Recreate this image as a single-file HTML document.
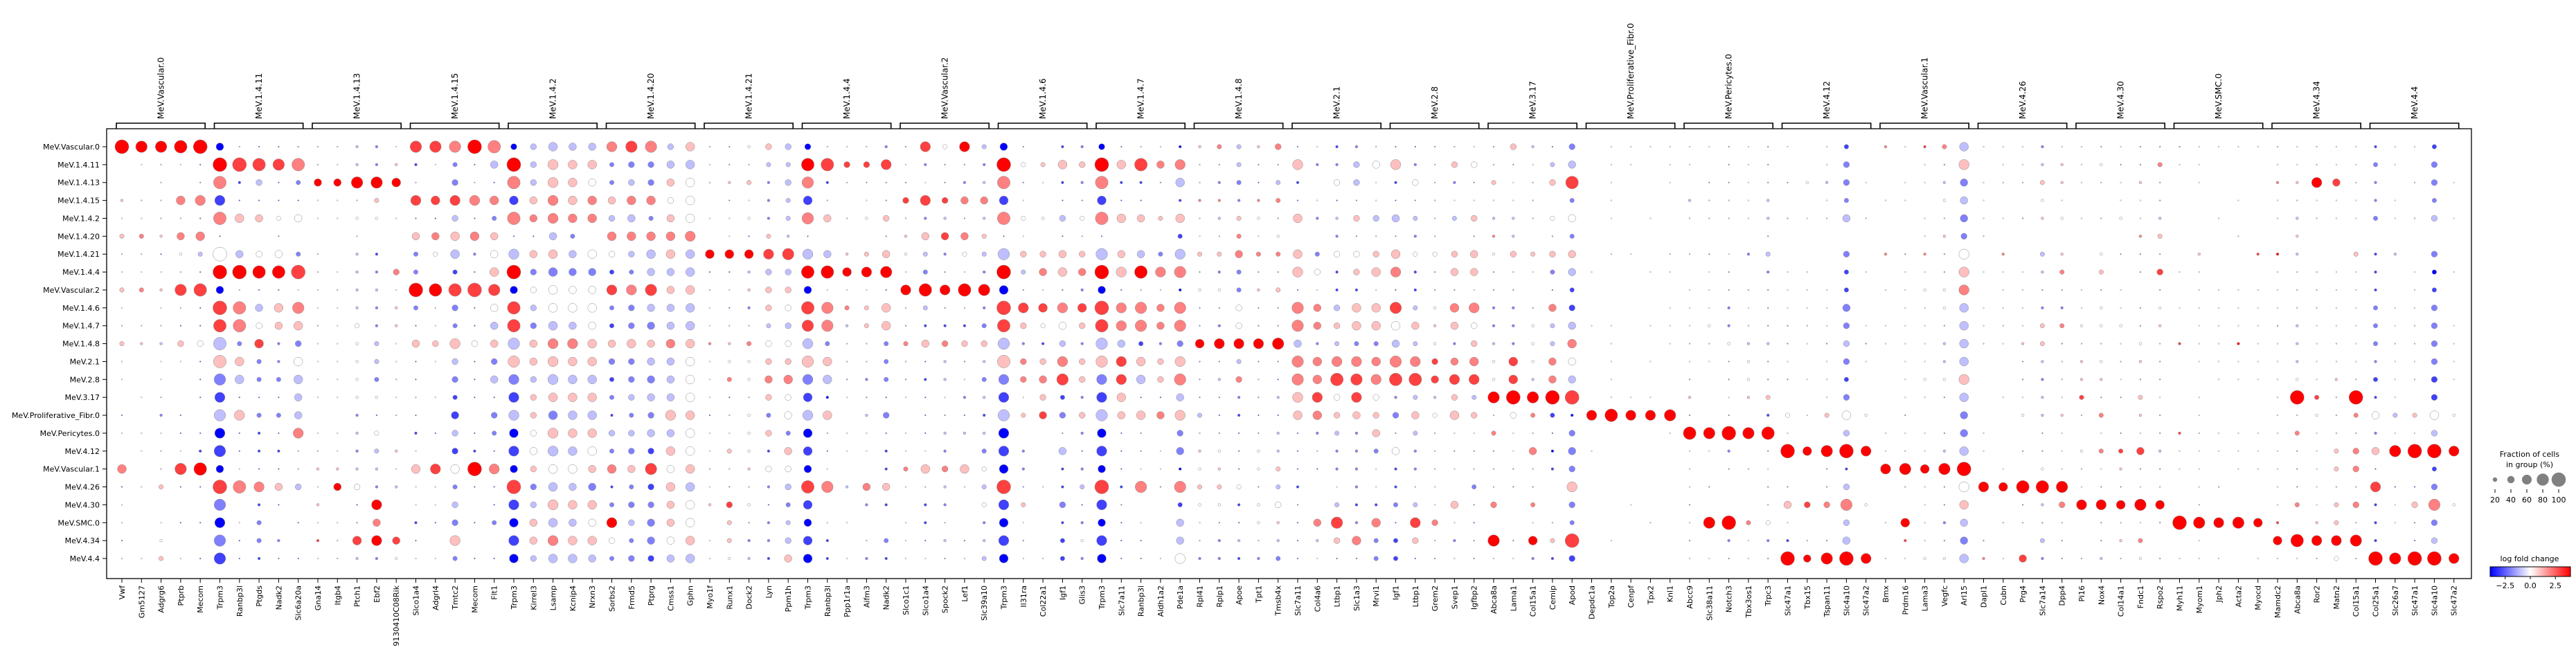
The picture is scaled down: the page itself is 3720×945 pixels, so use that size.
<!DOCTYPE html>
<html><head><meta charset="utf-8"><title>Dotplot</title>
<style>
html,body{margin:0;padding:0;background:#fff;}
svg{display:block;font-family:"DejaVu Sans","Liberation Sans",sans-serif;}
</style></head>
<body>
<svg id="chart" width="3720" height="945" viewBox="0 0 3720 945" xmlns="http://www.w3.org/2000/svg">
<defs>
<linearGradient id="bwr" x1="0" x2="1" y1="0" y2="0">
<stop offset="0" stop-color="#0000ff"/><stop offset="0.5" stop-color="#ffffff"/><stop offset="1" stop-color="#ff0000"/>
</linearGradient>
</defs>
<g id="plot"></g>
</svg>
<script>
const groups = ["MeV.Vascular.0","MeV.1.4.11","MeV.1.4.13","MeV.1.4.15","MeV.1.4.2","MeV.1.4.20","MeV.1.4.21","MeV.1.4.4","MeV.Vascular.2","MeV.1.4.6","MeV.1.4.7","MeV.1.4.8","MeV.2.1","MeV.2.8","MeV.3.17","MeV.Proliferative_Fibr.0","MeV.Pericytes.0","MeV.4.12","MeV.Vascular.1","MeV.4.26","MeV.4.30","MeV.SMC.0","MeV.4.34","MeV.4.4"];
const genes = ["Vwf","Gm5127","Adgrg6","Ptprb","Mecom","Trpm3","Ranbp3l","Ptgds","Nadk2","Slc6a20a","Gna14","Itgb4","Ptch1","Ebf2","9130410C08Rik","Slco1a4","Adgrl4","Tmtc2","Mecom","Flt1","Trpm3","Kirrel3","Lsamp","Kcnip4","Nrxn3","Sorbs2","Frmd5","Ptprg","Cmss1","Gphn","Myo1f","Runx1","Dock2","Lyn","Ppm1h","Trpm3","Ranbp3l","Ppp1r1a","Aifm3","Nadk2","Slco1c1","Slco1a4","Spock2","Lef1","Slc39a10","Trpm3","Il31ra","Col22a1","Igf1","Glis3","Trpm3","Slc7a11","Ranbp3l","Aldh1a2","Pde1a","Rpl41","Rplp1","Apoe","Tpt1","Tmsb4x","Slc7a11","Col4a6","Ltbp1","Slc1a3","Mrvi1","Igf1","Ltbp1","Grem2","Svep1","Igfbp2","Abca8a","Lama1","Col15a1","Cemip","Apod","Depdc1a","Top2a","Cenpf","Tpx2","Knl1","Abcc9","Slc38a11","Notch3","Tbx3os1","Trpc3","Slc47a1","Tbx15","Tspan11","Slc4a10","Slc47a2","Bmx","Prdm16","Lama3","Vegfc","Arl15","Dapl1","Cubn","Prg4","Slc7a14","Dpp4","Pi16","Nox4","Col14a1","Fndc1","Rspo2","Myh11","Myom1","Jph2","Acta2","Myocd","Mamdc2","Abca8a","Ror2","Matn2","Col15a1","Col25a1","Slc26a7","Slc47a1","Slc4a10","Slc47a2"];
// per gene: 24 tokens (one per group). digit = fraction bin (0-9), letter = log fold change a(-4)..e(0)..i(+4); "--" = no dot
const dotData = [
"9i -- -- 1f 0e 2f 0d 0e 2f 0e 0d 2f 0e 0e -- 0b 0e -- 5g 0b 0e 0e 0b 0e",
"7i 0e -- 0d 0e 2g 0d 0e 2g -- 0d 1f -- -- 0e -- 0e 0e -- 0e -- -- -- 0e",
"7i 0d 0d 0d 0d 1f 0b 0e 1f 0e 0d 1d 0e 0e 0d 1c 0e 0d 0d 2f -- 0e 1e 2f",
"8i 0e -- 5g 0d 4g 1e 0d 7h 0d 0b 3f 0e -- -- 0b 0b 0e 7h 0b -- 0b -- 0e",
"9i 0b 0c 6g 0b 5g 2d 0b 8h 0b 0b 3e 0b 0b 0b -- 0b 1b 8i 0b -- 0b -- 0b",
"4a 9i 8g 6b 8g 0b 9e 9i 4a 9h 8h 8d 8f 7c 6b 7d 6a 7b 4a 9h 7c 6a 7c 7b",
"0d 9h 1b 0b 5f -- 4d 9i 0d 8g 8g 2c 5f 5d 0b 6f 0b 0b 0e 8g -- 0e 0b 0b",
"0b 8h 3d 0b 4f -- 3e 8i 0b 4d 3e 5h 2c 2c 0b 2c 1b 1b 0b 6g 1b 2c 2c 1b",
"0b 7h 0b 0b 2e 0c 4e 8i 0b 5f 4f 1c 1c 2c 0b 2c 0b 1b 0b 4f 0b -- 1c 0b",
"0c 8g 2c 0b 4e -- 2c 9h 0e 7g 5f 3c 5e 5d 4d 4d 6g 0d 0d 3d -- 0b -- 0b",
"0d 0d 4i 0e 0e -- 0d 0d 0e 0e 0d 0e 0e 0e 0e -- 0e 0f 1f 0e 1f 0e 1h 0e",
"0f 0e 4i 0e 0e -- -- 0e 0d 0e 0e 0e 0e 0e 0e -- 0e 0e 1f 4i -- 0e 0f 0f",
"1d 1d 7i 0d 1e 0d 1d 1d 1d 1d 2e 1e 1e 1e 1e 1c 1d 1c 1d 3e 0b 0c 5h 1d",
"1c 1c 7i 2f 1e -- 1b 1c 1d 1c 1c 2d 2d 2c 1e 0b 2e 2d 1d 1c 6i 4g 6i 1c",
"0e 1f 5i -- 0e -- -- 3g 0e 1f 1f 0e 0e 0d 0e 0d -- 1f 0e 1d -- -- 4h 1e",
"7h 1b 0d 6h 0b 4f 2c 2c 9i 2c 0b 4f 0b 0b 0d 0b 1b 0e 5f 0e 0e 1b 0b 0e",
"7h 0e -- 5h 0b 4g 2e -- 8i 0d 0e 3f 0e -- 0e -- 0b -- 6h 0e 0e 0b -- 0e",
"7g 2c 3c 6h 3d 5f 5d 2b 8h 3c 2c 6f 3d 3c 2b 4b 3d 3b 5e 2c 3d 3c 6f 2c",
"9i 0b 0d 6g 0b 5g 1c 0b 9h 0b 0b 3e 0b 0b 0b -- 0b 1b 9i 0b -- 0b -- 0b",
"8g 4d 0b 5g 2c 4f 4e 5f 7h 4e 4d 4f 3c 4d 0b 3c 2c 0b 6g 0b 0b 2c -- 0b",
"3a 9i 8g 5b 8g 0b 6d 9i 4a 8h 8h 7d 7f 6c 6b 6d 5a 6b 4a 9h 6b 5a 6b 5a",
"3d 3d 3d 4f 4g 0b 4f 3c 3e 3d 3c 4f 4f 3d 3f 3f 3e 4e 3f 3c 3d 4f 4f 3d",
"5d 6f 6f 6g 6g 4d 5f 5c 5e 5e 5d 6g 6f 6d 5f 5c 6f 6d 5e 5d 6f 5d 6g 5d",
"4d 5f 5f 5f 5g 2c 4d 4c 4e 5e 4d 6g 5f 5d 5f 5d 5f 5d 5e 4d 5f 4d 5f 5d",
"4d 5f 4e 5g 5g -- 5e 4c 4e 5e 4e 5f 5f 5d 5f 5d 5f 5e 4f 4c 5f 4e 5f 4d",
"6g 2c 2c 4f 3d 5g 3e 2b 6h 2c 2b 4f 3c 2b 2c 1b 3d 2c 5g 1b 2c 6i 3e 2c",
"7h 3c 3d 5g 4d 5g 3d 2c 6g 3c 3c 5f 3c 3c 3d 2c 3d 3c 4f 2c 3c 3d 2c 3c",
"7g 3c 3c 5g 2c 5g 5d 4d 7h 4d 4c 4f 4d 4c 4d 3c 4d 3b 7h 3b 3c 4c 4c 3b",
"3d 4d 4f 3e 4f 5g 5f 4d 4f 4d 4d 5g 4d 4d 4d 6f 4d 5f 4e 5f 4f 4f 4e 4d",
"5f 5d 5e 5e 5e 6g 5d 5d 5f 5d 5d 5f 5e 5e 5e 5f 5e 5e 5f 5d 5e 5e 5f 5d",
"0d 0e 0f -- 0e -- 5i 0b 0f 0e 0e 1g 0e 0e 0e 0b 0e 0e 0f 0e 1f -- 0e 0e",
"0c 0c 1f 0c 0e 0e 5i 0b 0e 0b 0d 1f 1e 2g 0b 0f 0e 2f 0d 0c 3h 2f 2f 1e",
"1e 0d 2f 0e 1e 0b 5i 1d 1f 1c 0d 2g 1e 1e 0d 1e 1e 1e 1f 0d 1e 0c 1c 1d",
"3f 2d 1c 1c 1c 2f 6h 3d 3f 3f 2d 3e 3f 4g 3f 2c 3f 1b 3e 1c 0b 1c 1c 1b",
"3d 2d 3d 2d 2d 1d 7h 3d 3f 3e 3d 3e 3f 5g 3e 4e 2c 4f 3e 3d 2c 2d 3d 4f",
"3a 8i 7g 5b 7g 0b 6d 8i 4a 8h 7h 6d 7f 6c 5b 6d 5a 5b 4a 8h 5b 4a 5b 5a",
"0d 8h 1b 0d 4f -- 4d 8i 0e 7g 7g 2c 5f 5d 1a 5f 0d 0b 0e 7g -- 0e 1b 1b",
"0e 3h 0d -- 0d -- 1f 5i 0e 2g 1d 0d 0d 0c 0e -- 0e 0e -- 1d -- 0e -- 0e",
"0d 3h 0c 0e 1e -- 2f 6i 0e 2f 2f 0d 0d 1c 0c 1d 0e 0e -- 4g 1c -- 0d 1c",
"1c 6h 0c 0c 3f 0c 4f 7i 0b 5f 5f 2c 2c 2c 0b 3c 0b 1b 1b 4f 1b -- 2c 1b",
"0c 0e 0c 3h 0d 1f 1e 0e 6i 0d 0c 2g 0d 0c 0e -- 0e 0e 2g 0e -- 0e 0e 0e",
"6h 1c 0e 6h 1c 4f 2d 2c 8i 2d 1b 4f 0b 1b 0b 0b 0b 0e 5f 0d 1b 1b 0b 0e",
"2e 0c 0c 3h 1d 4h 1c 0c 6i 0c 1b 3g 1d 1d 0e 0c 1d 1c 3g 1d 1c 0d 1d 0c",
"6i 0c 1c 4g 0c 4g 2e 0e 8i 0d 1b 3f 0c 0e 1c 0b 1d -- 5f 0e -- -- 0b 0e",
"2d 1c 1d 4g 1d 2f 2d 1c 7i 1c 2c 3f 1d 2c 1d 1b 1d 2c 2e 2d 2e 1c 1d 2d",
"4a 9i 8g 5b 8g 0b 7d 9i 5a 9h 8h 7d 8f 6c 6b 7d 6a 6b 5a 9h 6b 5a 6b 5a",
"0c 2e 0c 0e 2e 0e 3f 2d 0c 6h 3f 1c 3g 3g 0e 2f -- 1c 1c 0c 2f 0e 0c 0e",
"-- 2f 0e -- 1e -- 3f 4g 0e 5h 2e 1b 3f 4g 3f 4h -- -- -- 0e -- -- -- 0e",
"1b 5f 1b 0b 3d 0b 4f 5f 0b 6g 4e 3d 6g 7h 2b 3c 0c 4d 1b 1b 3c 1b 2b 2b",
"1c 3f 1c 0c 2e 0d 3f 4g 1c 5h 3f 1c 3f 3f 1c 3f 1c 0b 1c 2d 0b 1c 1e 1c",
"3a 9i 8g 5b 8g 0b 7d 9i 4a 9h 8h 7d 7f 6c 6b 7d 5a 6b 4a 9h 6b 4a 6b 5a",
"0b 5f 1b 0b 5f -- 4f 6f 0b 6g 6g 4d 6h 6h 5f 4f 0b 0b 0b 1b 0c 0b 0b 0b",
"0d 8h 1b 0b 4f -- 4d 8i 0d 7g 7g 2b 5f 5d 0b 5f 0c 0c 0e 7g -- 0e 0b 0b",
"0e 4g 0c -- 2f -- 2c 6g 0e 4g 4g 1c 3f 3f 0b 4g -- 0e 0e 0c -- -- -- 0e",
"1a 6g 5d 1b 5f 2b 6d 7g 1a 7g 7g 3c 6f 7g 4d 6f 3c 4c 1a 7g 2b 4d 4d 6e",
"1f 0d 0d 1g 0d 0e 2f 0c 1e 0c 0c 5i 0c 0c 0c 2d 0d 1f 1e 2f 1e 0e 0d 1c",
"2g 0c 1c 1g 1d 0d 2f 1c 1e 0c 1c 6i 0c 1d 0c 0b 0c 1e 1f 2f 1e 0c 1c 1c",
"2d 2d 2c 1c 2f 2g 4g 2c 2c 3e 3e 6i 2d 3g 1c 1b 0b 0b 0b 2e 1b 0b 1d 1b",
"1f 0c 0b 1g 1e 0e 2g 0c 1f 0c 0c 6i 0c 0d 0c 0b 0c 1e 1e 0c 1e 1e 0d 1c",
"3g 0c 2d 2g 0c 1e 2g 0c 2f 0c 0c 7i 0c 0b 1d 0b 1d 1d 2f 2d 3e 1f 1d 2c",
"0b 6f 1b 0b 5f -- 5f 6f 0b 7g 7g 4d 7g 7g 6f 5f 0b 0b 0b 1b 0c 0b 0b 0b",
"0e 1c -- 0e 1c -- 2c 3e 0e 4g 4g 1c 5g 5g 6h 5g 1c 0d 0b -- -- 4g 1d 0e",
"1b 1c 3e 0b 1d 1c 3e 1b 1b 3d 3f 2d 6g 8h 3e 3f 2d 1c 1c 0e 2d 7h 3f 0b",
"1c 3d 3d 0c 3f 0c 3e 3f 1b 5f 5f 2c 6g 7h 6h 4f 1c 1c 1c 1c 1b 1c 5g 0b",
"0d 4e 0e 0e 3d 0d 3f 5f 0e 5f 5f 2c 5g 6g 3e 3f 4f 2c 0e 0e 1b 5g 2c 2c",
"0b 6f 1b 0b 4d 0c 5f 6g 0b 7h 5e 4d 7g 8h 1c 3c 0c 4e 1b 1b 2c 0b 2b 2b",
"0b 1c 3e 0c 2d 1c 2e 1b 1b 2d 4f 2d 6g 8h 2d 4f 2d 1c 1c 0d 2d 6h 3f 0b",
"0c 0d 0d 0d 0d 0d 2e 0c 0c 1e 1f 1e 3h 4h 1d 2e 0d 0d 0d 0e 0e 3g 0d 0c",
"0d 3f 1c 0e 2d -- 3f 4f 0c 5g 4f 1c 4g 6h 3f 5f 0e 0c 0e -- 4f 0e 1c 0e",
"0e 3e 0c 0e 3f 0c 4f 4f 0e 6g 3e 3f 5g 6h 2d 3f 0e 0c 0d 2c 0c 0b 0c 0c",
"0c 0d 2f 0e 1d 1g 1e 0c 0c 1c 1c 1d 1e 1e 7i 0d 2g 0c 0d 0d 3g -- 7i 0e",
"3f 0c 0e 0e 1d 1d 3f 0d 0c 1c 1c 1c 5h 5h 9i 3e 0e 0e 0c 0c -- -- 0c 0e",
"1d 0e 0d 0d 0d -- 2f 0e -- 0c 1e 1e 1e 1d 7i 2g 0d 4g 0d 0c 2g 0e 5i 1c",
"0b 2d 3f -- 2e 0c 3f 2c 0b 4g 2d 2d 4g 4g 9i 2b 0b 1a 1b -- -- 0d 2f 1b",
"3c 4d 8h 2c 4e 2c 4f 4d 2b 3b 4d 5g 4e 4d 9h 1a 3c 4c 3c 6f 3c 2c 9h 3b",
"-- -- -- -- -- -- -- 0e -- -- 0e -- -- -- -- 6i -- 0e -- -- -- -- -- --",
"0e 0e 0e 0e 0e -- 0f -- -- -- 0e 0e 0e 0e 0e 8i -- -- -- -- -- -- 0e --",
"0e 0e -- -- -- -- 0e -- -- -- -- -- -- -- 0e 6i -- -- -- -- 0e -- -- --",
"0e -- -- -- 0e -- -- 0e -- -- 0e -- 0e -- 0e 6i -- -- -- -- -- 0f -- --",
"0e 0e 0e -- -- -- 0f 0e -- 0e 0e 0e -- -- -- 7i 0e -- -- -- -- -- -- --",
"0e 0e -- 1d 0d -- 0d -- 0e 0e 0e 0d 0e 0c 1f 0c 8i 0e 0e 0e 0c 0e 0c 0e",
"0e -- 0c 0d 0d -- 0c 0e 0e 0e 1e 0d 0e -- -- -- 7i 0e -- 0c -- 7i -- 0e",
"0c 0c 0c 0d 0d -- 0e 0c 0c 1c 1c 1e 0c 0c 0e 0c 9i 1c 0c -- -- 9i 1c 0c",
"0e 0e 0e 0e 0e -- 1c -- 0d 0e 0d 1d 1e 1e 1f -- 7i -- 0d -- -- 2g 0e 0e",
"0c 0c 0c 1d 1d 0c 2d 1c 0c 0c 0c 1d 0c 0c 2f 1b 8i 0c 0e 0c 0d 2e 1c 0c",
"0e -- 0c -- 0c -- -- 0e 0e 0e 0c 0c 0e 0c -- 2e 0e 9i -- 0c 4f 0e 1b 9i",
"-- -- 1e -- 0e -- -- 0e 0e 0e 0d 0e -- 0e -- 0e -- 5i -- -- 3h -- 0d 4i",
"0e 0e 1d 0e 0d -- -- -- 0e 0e 0e 0c 0e 0e 0e 2f -- 7i 0c 0c 3g -- 0c 7i",
"2b 3c 3c 2c 4d -- 3c 2b 2b 4c 3c 3d 3c 2b 3c 5e 3d 9i 1b 3d 7g 3d 4d 9i",
"-- -- 0e -- 0d -- -- 0e -- -- 0e 0c 0e -- -- 1e -- 6i -- -- 1e -- -- 6i",
"1g -- -- 0e -- -- 1g -- 0e -- 0e 0e -- -- -- -- 0e 0e 6i -- -- 0e -- 0e",
"0e -- 0e 0e -- -- 0c 0e 0e 0e 0e 0e 0e 0e 0e 0c 0e 0d 7i 0d -- 5i 1h 0e",
"1h 0e 0e -- 0e 0e 1g 0e 1e 0e 0e 0e 0e 1e 0e -- 0e 0e 5i 0e 0e 0e 0e 1e",
"2g 0c 1d 1e 0d 1f 0c 0c 1e 1e 0c 1d 1d 1e 0c -- 0c 1d 7i 0c 0c 1c 0c 1e",
"5d 6f 4c 4d 4c 3c 6e 6f 6g 5d 5d 5d 5d 6f 5d 4c 4c 5d 9i 6e 5f 4d 4c 5d",
"0e -- 0e 0e 0e 0f -- 0e -- 0e 0e 0f -- -- -- -- 0e 0e -- 6i -- -- 0c 1g",
"0e 0e 0f -- 0e -- 1g 0e 0e 0e 0f 0e -- -- 0e -- -- -- 0e 5i -- 0d -- 0e",
"0e 0e 0d -- 0c -- -- 0e 0e 0e 0e 1f 0c 0c 0e 1e -- 0c -- 8i 0c 0d -- 4h",
"1c 1d 2f 1e 1f -- 2d 1d 0c 1c 2f 2f 1d 1c 1d 1d 0c 0c 1e 8i 1d 0c 2d 1c",
"0e 1f 1f 0e 1e -- 1f 2g 0c 1c 2g 0c 0d 0d 0e 1f 0e 0e 0e 7i 3g 0d 0c 0c",
"0e 0e 0e -- 0e -- -- -- 0e 0e 1e 0d 1f 1f 2h 0d -- 1e 0d 0e 6i -- -- 0d",
"0c 1e 0d -- 0d -- 1e 2f 0c 1e 1e 0d 1e 1f 0c 2g 0e 2g 0e 0c 6i 0c 0c 1d",
"0e 0c 0e 0e 1e -- 0c -- 0e 0e 1e 0e 0d 0e 0c -- 0c 2h 1f 0c 5i 0f 1f 0d",
"0c 0c 1f 0e 0e 1g 0c 0c -- 0c 0c 1e 1f 0c 2f 1f 0e 4h 0c 0e 7i 0e 2g 1e",
"0c 2g 0c 0c 1d 2f 0c 3h 0c 1e 1f 0d 0c 0c 0e 0c 0c 1d 0c 0d 5i 0c -- 0c",
"0c 0e -- -- -- -- -- 0e -- 0e -- 1h -- -- -- -- 1h 0e 0e -- -- 9i -- 0e",
"0e 0e 0e -- -- -- 1f 0e 0e 0e 0e 0e 0e -- 0e 0e 0f 0e 0e 0e 0d 7i 0e 0e",
"0e -- -- -- 0e -- -- -- 0e 0e 0e 0e 0e 0e -- -- 0e 0e -- 0g -- 6i -- 0e",
"0e -- -- 0e -- 0f -- -- 0e 0e 0e 1i 0e 0e -- -- 0e 0e 0e -- -- 7i -- --",
"0e -- -- -- -- -- 1h -- 0e 0e 0e 0e 0e 0e -- -- 0e 0e 0e -- -- 5i -- 0e",
"0d 0e 1g 0e 0e -- 1i 0e 0e 0e 0c 0e 0e 0e 0e 0e 0e 0e 0e 0e 0e 1h 5i 0e",
"0e 0e 1f 0d 1d 1f 1d 0d 0d 0d 1d 1d 1d 1e 9i 0d 2g 0c 0c 0c 2g -- 8i 0e",
"0d 0d 6i 0e 0d -- -- 0d 0d 0d 0e 0e 0e 0e 2h 1e 0e 0e 0e 0e 0e 1f 6i 0d",
"0e 0e 4h 0e 0e -- -- 0e 0e 0e 0e 0d 0e 1f 0d 0d 0d 2f 2f 0d 2f 2f 6i 2e",
"0e 0e 0d 0e 0e -- 2f 0e 0e 0e 0e 0e 0e 0d 9i 2g 0d 3g 3g 0d 3g 0d 7i 0d",
"1b 2c 1c 1c 2c -- 1b 1b 1b 2c 2c 2c 1c 2b 1b 4e 1c 4f 0b 6h 1b 1b 1b 9i",
"0e 0e -- 0e 0e -- 1d -- -- 0e 0e 0d 0e 0e 0e 2d 0e 7i -- 0b 0e 0e -- 7i",
"0e -- 0d -- 0d -- -- 0e 0e 0e 0d 0d 0e 0d -- 2f 0e 9i -- 0b 3f 0c 0b 9i",
"2b 3c 3c 2c 3d -- 3c 2a 2b 3c 3c 3c 3c 3b 3b 5e 3d 9i 2b 3c 7g 3c 3d 9i",
"-- -- 0e -- 0e -- -- 0e -- -- 0e 0e 0e 0e -- 1e -- 6i -- -- 1e -- -- 6i"
];
const sizeLegendValues = [20, 40, 60, 80, 100];
const colorbarTicks = [-2.5, 0.0, 2.5];
const lfcLetters = "abcdefghi"; // a=-4 ... i=+4

const NS = "http://www.w3.org/2000/svg";
const plot = document.getElementById("plot");
const AX = {left:154, top:186, right:3569, bottom:836};
const X0 = 176, XSTEP = 28.3, Y0 = 212, YSTEP = 25.87;
const xPos = i => X0 + i * XSTEP;
const yPos = r => Y0 + r * YSTEP;
const radius = f => 10 * Math.pow(f, 0.75);
const fracOf = d => d === 0 ? 0.04 : d / 9;
function bwr(v){
  let t = Math.max(0, Math.min(1, (v + 4) / 8));
  let r, g, b;
  if (t < 0.5){ r = g = Math.round(2*t*255); b = 255; }
  else { r = 255; g = b = Math.round(2*(1-t)*255); }
  return `rgb(${r},${g},${b})`;
}
function mk(tag, attrs, parent){
  const e = document.createElementNS(NS, tag);
  for (const k in attrs) e.setAttribute(k, attrs[k]);
  (parent || plot).appendChild(e);
  return e;
}

// axes frame
const frame = mk("rect", {x:AX.left, y:AX.top, width:AX.right-AX.left, height:AX.bottom-AX.top, fill:"none", stroke:"#000", "stroke-width":1.3});



// row labels + ticks
groups.forEach((g, r) => {
  const y = yPos(r);
  const t = mk("line", {x1:AX.left-6, x2:AX.left, y1:y, y2:y, stroke:"#000", "stroke-width":1});
  
  
  const lab = mk("text", {x:AX.left-10, y:y+4, "text-anchor":"end", "font-size":"11", fill:"#000"});
  lab.textContent = g;
  
  
});

// gene labels + ticks
genes.forEach((gname, i) => {
  const x = xPos(i);
  const t = mk("line", {x1:x, x2:x, y1:AX.bottom, y2:AX.bottom+6, stroke:"#000", "stroke-width":1});
  
  
  const lab = mk("text", {x:0, y:0, "text-anchor":"end", "font-size":"11", fill:"#000", transform:`translate(${x+4},${AX.bottom+10}) rotate(-90)`});
  lab.textContent = gname;
  
  
});

// group brackets + labels
for (let gi = 0; gi < groups.length; gi++){
  const xa = xPos(gi*5) - 8, xb = xPos(gi*5+4) + 7;
  const br = mk("path", {d:`M${xa},${AX.top} L${xa},178 L${xb},178 L${xb},${AX.top}`, fill:"none", stroke:"#000", "stroke-width":1.6});
  
  
  const cx = (xPos(gi*5) + xPos(gi*5+4)) / 2;
  const gl = mk("text", {x:0, y:0, "text-anchor":"start", "font-size":"12", fill:"#000", transform:`translate(${cx+4},172) rotate(-90)`});
  gl.textContent = groups[gi];
  
  
}

// dots
dotData.forEach((col, i) => {
  const toks = col.split(" ");
  toks.forEach((tk, r) => {
    if (tk === "--") return;
    const d = parseInt(tk[0], 10);
    const v = lfcLetters.indexOf(tk[1]) - 4;
    const c = mk("circle", {cx:xPos(i).toFixed(2), cy:yPos(r).toFixed(2), r:radius(fracOf(d)).toFixed(2), fill:bwr(v), stroke:"#8a8a8a", "stroke-width":0.5});
    
    
  });
});

// size legend
const lt1 = mk("text", {x:3653, y:660, "text-anchor":"middle", "font-size":"11", fill:"#000"});
lt1.textContent = "Fraction of cells";


const lt2 = mk("text", {x:3653, y:675, "text-anchor":"middle", "font-size":"11", fill:"#000"});
lt2.textContent = "in group (%)";


sizeLegendValues.forEach((pct, k) => {
  const x = 3603 + k * 23;
  const c = mk("circle", {cx:x, cy:693, r:radius(pct/100).toFixed(2), fill:"#808080", stroke:"#7a7a7a", "stroke-width":0.5});
  
  
  const tk = mk("line", {x1:x, x2:x, y1:707, y2:712, stroke:"#000", "stroke-width":1});
  
  
  const tl = mk("text", {x:x, y:726, "text-anchor":"middle", "font-size":"11", fill:"#000"});
  tl.textContent = String(pct);
  
  
});

// colorbar
const cbT = mk("text", {x:3653, y:811, "text-anchor":"middle", "font-size":"11", fill:"#000"});
cbT.textContent = "log fold change";


const CB = {x0:3596, x1:3712, y0:819, y1:833, vmin:-4, vmax:4};
const cb = mk("rect", {x:CB.x0, y:CB.y0, width:CB.x1-CB.x0, height:CB.y1-CB.y0, fill:"url(#bwr)", stroke:"#000", "stroke-width":1});


colorbarTicks.forEach(v => {
  const x = CB.x0 + (v - CB.vmin) / (CB.vmax - CB.vmin) * (CB.x1 - CB.x0);
  const tk = mk("line", {x1:x, x2:x, y1:CB.y1, y2:CB.y1+4, stroke:"#000", "stroke-width":1});
  
  
  const tl = mk("text", {x:x, y:CB.y1+17, "text-anchor":"middle", "font-size":"11", fill:"#000"});
  tl.textContent = (v < 0 ? "\u2212" : "") + Math.abs(v).toFixed(1);
  
  
});
</script>
</body></html>
